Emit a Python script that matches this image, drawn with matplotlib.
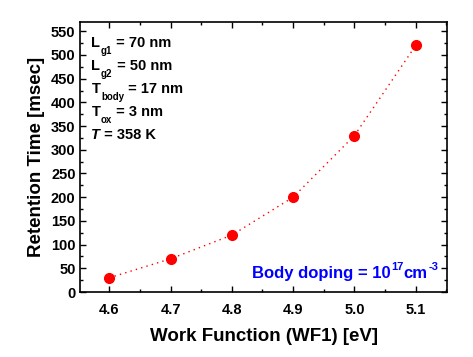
import matplotlib

matplotlib.use("Agg")
import matplotlib.pyplot as plt
from matplotlib.ticker import MultipleLocator

work_function = [4.6, 4.7, 4.8, 4.9, 5.0, 5.1]
retention_ms = [30, 70, 120, 200, 330, 520]

# each line: (main, subscript, rest, italic main)
param_lines = [
    ("L", "g1", " = 70 nm", False),
    ("L", "g2", " = 50 nm", False),
    ("T", "body", " = 17 nm", False),
    ("T", "ox", " = 3 nm", False),
    ("T", "", " = 358 K", True),
]
doping_parts = [("Body doping = 10", False), ("17", True), ("cm", False), ("-3", True)]

plt.rcParams["font.family"] = ["Liberation Sans", "DejaVu Sans"]
plt.rcParams["font.weight"] = "bold"

fig = plt.figure(figsize=(4.73, 3.57), dpi=100)
ax = fig.add_axes([0.170, 0.182, 0.775, 0.757])

ax.plot(work_function, retention_ms, linestyle=(0, (1, 3)), color="red", linewidth=1.0,
        marker="o", markersize=7, markerfacecolor="red", markeredgecolor="red")

ax.set_xlim(4.553, 5.151)
ax.set_ylim(0, 570)
ax.xaxis.set_major_locator(MultipleLocator(0.1))
ax.xaxis.set_minor_locator(MultipleLocator(0.05))
ax.yaxis.set_major_locator(MultipleLocator(50))
ax.yaxis.set_minor_locator(MultipleLocator(25))
ax.tick_params(which="both", direction="in", top=True, right=True, width=1.0,
               labelsize=10.5)
ax.tick_params(which="major", length=4.5)
ax.tick_params(which="minor", length=2.5)
ax.tick_params(axis="x", pad=8)
for lab in ax.get_xticklabels() + ax.get_yticklabels():
    lab.set_fontweight("bold")
for sp in ax.spines.values():
    sp.set_linewidth(1.2)

ax.set_xlabel("Work Function (WF1) [eV]", fontsize=13.5, fontweight="bold", labelpad=8)
ax.set_ylabel("Retention Time [msec]", fontsize=13.5, fontweight="bold", labelpad=4)

for i, (main, sub, rest, ital) in enumerate(param_lines):
    t1 = ax.text(0.03, 0.905 - i * 0.085, main, transform=ax.transAxes, fontsize=10.5,
                 fontweight="bold", fontstyle="italic" if ital else "normal",
                 va="baseline", ha="left")
    anchor = t1
    if sub:
        anchor = ax.annotate(sub, xy=(1, 0), xycoords=t1, xytext=(0.5, -2.5),
                             textcoords="offset points", fontsize=7,
                             fontweight="bold", va="baseline", ha="left")
    ax.annotate(rest, xy=(1, 0), xycoords=(anchor, t1), fontsize=10.5,
                fontweight="bold", va="bottom", ha="left")

prev = None
for text, sup in doping_parts:
    size = 8 if sup else 12
    if prev is None:
        prev = ax.text(0.468, 0.04, text, transform=ax.transAxes, fontsize=size,
                       fontweight="bold", color="#0000ff", va="bottom", ha="left")
        base = prev
    else:
        dy = 6.5 if sup else 0
        prev = ax.annotate(text, xy=(1, 0), xycoords=(prev, base), xytext=(0.3, dy),
                           textcoords="offset points", fontsize=size,
                           fontweight="bold", color="#0000ff", va="bottom", ha="left")

fig.savefig("out.png", dpi=100)
